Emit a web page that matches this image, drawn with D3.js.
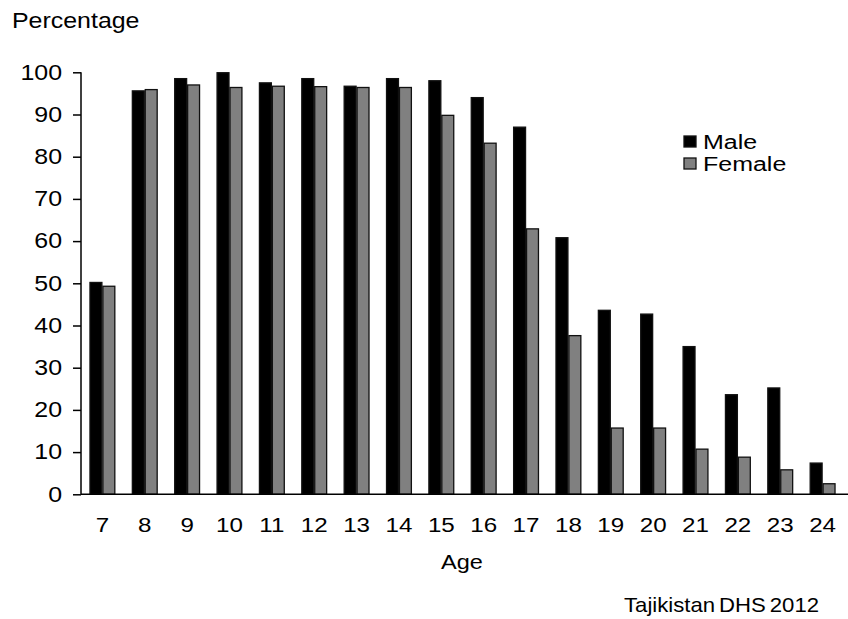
<!DOCTYPE html>
<html><head><meta charset="utf-8">
<script src="https://cdn.jsdelivr.net/npm/d3@7"></script>
<style>body{margin:0;background:#fff}svg{display:block}text{font-family:"Liberation Sans",Arial,sans-serif;fill:#000}</style>
</head><body>
<script>
const ages = ["7","8","9","10","11","12","13","14","15","16","17","18","19","20","21","22","23","24"];
const male = [50.2,95.6,98.5,99.9,97.5,98.5,96.7,98.5,98.0,94.0,87.0,60.8,43.6,42.7,35.0,23.6,25.2,7.4];
const female = [49.3,95.9,97.0,96.4,96.7,96.6,96.4,96.4,89.8,83.2,62.9,37.6,15.7,15.7,10.7,8.8,5.8,2.5];
const seriesNames = ["Male","Female"];
const seriesColors = ["#000000","#808080"];
const yTicks = [0,10,20,30,40,50,60,70,80,90,100];

const W=848,H=619;
const FONT="Liberation Sans, Arial, sans-serif";
const SX=1.16;
const svg=d3.select("body").append("svg").attr("width",W).attr("height",H);
const x=d3.scaleBand().domain(ages).range([81,844]).paddingInner(0.39).paddingOuter(0.2);
const y=d3.scaleLinear().domain([0,100]).range([494.3,72.3]);
const xs=d3.scaleBand().domain(seriesNames).range([0,x.bandwidth()]);

const series=[male,female];
series.forEach((vals,si)=>{
  svg.append("g").selectAll("rect").data(vals).join("rect")
    .attr("x",(d,i)=>x(ages[i])+xs(seriesNames[si])+0.5)
    .attr("y",d=>y(d))
    .attr("width",xs.bandwidth()-1)
    .attr("height",d=>y(0)-y(d))
    .attr("fill",seriesColors[si])
    .attr("stroke","#111").attr("stroke-width",1.3);
});

const ya=svg.append("g").attr("transform","translate(81,0)")
  .call(d3.axisLeft(y).tickValues(yTicks).tickSize(8).tickPadding(11));
ya.select(".domain").attr("stroke","#000").attr("stroke-width",1.5).attr("d","M0,"+y(100)+"V"+y(0));
ya.selectAll(".tick line").attr("stroke","#000").attr("stroke-width",1.5);
ya.selectAll("text").attr("font-size","21.5px").attr("font-family",FONT).attr("fill","#000")
  .attr("x",-19/SX).attr("transform","scale("+SX+",1)");

const xa=svg.append("g").attr("transform","translate(0,"+y(0)+")")
  .call(d3.axisBottom(x).tickSize(0).tickPadding(23));
xa.select(".domain").attr("stroke","#000").attr("stroke-width",1.5).attr("d","M81,0H848");
xa.selectAll("text").attr("font-size","21px").attr("font-family",FONT).attr("fill","#000")
  .attr("transform","scale(1.15,1)");

function label(txt,px,py,size,sx,anchor){
  return svg.append("text").attr("transform","translate("+px+","+py+") scale("+sx+",1)")
    .attr("text-anchor",anchor||"start").attr("font-size",size+"px").text(txt);
}
label("Percentage",12,28,21.5,SX);
label("Age",462,569,21,1.12,"middle");
label("Tajikistan DHS 2012",819,612,20.5,1.08,"end").attr("word-spacing","-2px");

seriesNames.forEach((n,i)=>{
  const base=148.5+i*22;
  svg.append("rect").attr("x",684).attr("y",base-12.5).attr("width",12).attr("height",11)
    .attr("fill",seriesColors[i]).attr("stroke","#111").attr("stroke-width",1.3);
  label(n,703,base,20,1.25);
});
</script>
</body></html>
